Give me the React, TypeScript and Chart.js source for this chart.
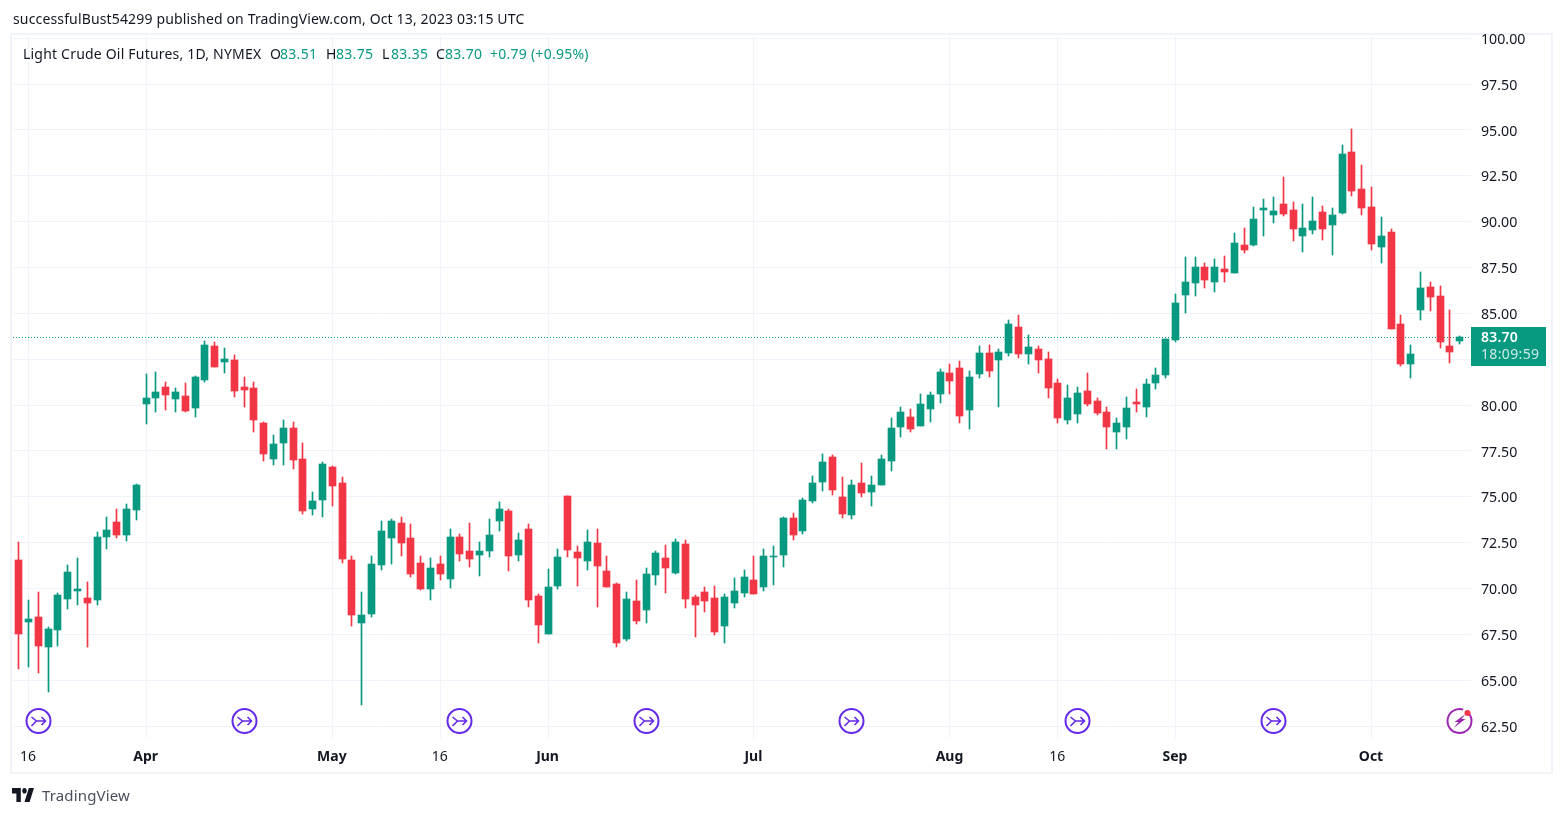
import React, { useEffect, useRef } from "react";
import { Chart, registerables } from "chart.js";

Chart.register(...registerables);

const opens = [
  71.55,68.17,68.45,66.83,67.76,69.45,69.88,69.48,69.39,72.83,
  73.63,72.94,74.30,80.08,80.40,80.99,80.35,80.50,79.86,81.39,
  83.22,82.35,82.46,80.99,80.93,79.02,77.08,77.95,78.75,77.06,
  74.35,74.84,76.62,75.75,71.55,68.12,68.61,71.28,72.77,73.57,
  72.75,71.39,69.97,71.34,70.52,72.81,72.04,71.83,72.04,73.68,
  74.23,71.83,73.24,69.59,67.52,70.14,75.04,71.99,71.50,72.48,
  70.95,70.25,67.25,69.32,68.83,70.74,71.66,70.85,72.43,69.54,
  69.81,69.48,67.96,69.21,69.75,70.46,70.08,71.71,71.83,73.84,
  73.13,74.77,75.81,77.17,74.99,74.01,75.75,75.26,75.64,76.95,
  78.80,79.35,78.86,79.79,80.60,81.75,82.02,79.73,81.70,82.84,
  82.46,82.84,84.26,82.78,83.06,82.51,81.20,79.19,79.51,80.77,
  80.22,79.62,78.53,78.80,80.17,79.90,81.20,81.64,83.55,86.00,
  86.66,87.53,86.71,87.42,87.20,88.73,88.73,90.64,90.36,90.96,
  90.64,89.22,89.55,90.53,89.82,90.47,93.80,91.78,90.80,88.62,
  89.44,84.42,82.24,85.19,86.44,85.95,83.22,83.51,
];
const closes = [
  67.52,68.34,66.88,67.79,69.65,70.90,69.97,69.21,72.81,73.19,
  72.94,74.33,75.64,80.39,80.71,80.57,80.71,79.70,81.53,83.28,
  82.10,82.51,80.79,80.82,79.20,77.35,77.88,78.75,77.02,74.24,
  74.77,76.79,75.60,71.63,68.56,68.56,71.34,73.13,73.68,72.48,
  70.79,69.97,71.12,70.79,72.81,71.88,71.61,72.04,72.92,74.33,
  71.77,72.64,69.37,68.01,70.08,71.72,72.10,71.66,72.54,71.23,
  70.08,67.03,69.43,68.23,70.79,71.93,71.12,72.54,69.43,69.10,
  69.32,67.63,69.54,69.86,70.63,69.70,71.77,71.77,73.84,72.92,
  74.82,75.75,76.90,75.37,74.06,75.64,75.21,75.64,77.06,78.75,
  79.62,78.70,80.06,80.55,81.80,81.31,79.41,81.53,82.84,81.86,
  82.89,84.42,82.78,83.17,82.46,80.93,79.30,80.39,80.66,80.06,
  79.57,78.80,79.02,79.84,80.06,81.15,81.64,83.60,85.57,86.71,
  87.53,86.82,87.53,87.26,88.84,88.46,90.15,90.75,90.58,90.42,
  89.60,89.66,90.04,89.60,90.36,93.69,91.67,90.75,88.78,89.22,
  84.15,82.24,82.79,86.38,85.89,83.44,82.91,83.70,
];
const highs = [
  72.54,69.37,69.81,67.90,69.76,71.28,71.66,70.35,73.08,73.90,
  74.33,74.61,75.70,81.70,81.80,81.26,80.93,81.20,81.59,83.50,
  83.44,83.11,82.73,81.53,81.26,79.08,78.37,79.19,79.08,77.93,
  75.26,76.90,76.68,76.08,71.77,69.81,71.77,73.68,73.79,73.90,
  73.52,71.77,71.66,71.77,73.24,72.97,73.57,72.54,73.79,74.72,
  74.33,73.03,73.52,69.70,71.06,72.15,75.04,72.32,73.19,73.24,
  71.77,70.30,69.81,70.46,71.12,72.04,72.37,72.70,72.64,69.65,
  70.08,70.14,69.70,70.57,71.01,71.77,72.15,72.32,73.90,74.12,
  74.93,76.13,77.33,77.28,76.08,75.92,76.84,76.13,77.28,79.30,
  79.90,79.79,80.60,80.71,81.97,82.24,82.40,81.86,83.22,83.28,
  83.06,84.64,84.91,83.82,83.22,82.90,81.42,81.10,80.99,81.75,
  80.39,79.90,79.30,80.44,80.88,81.42,82.02,83.60,86.06,88.07,
  88.07,87.75,87.97,88.13,89.39,89.66,90.80,91.24,91.35,92.44,
  91.07,90.96,91.35,90.85,90.75,94.18,95.05,93.09,91.89,90.26,
  89.60,84.91,83.28,87.26,86.71,86.50,85.19,83.75,
];
const lows = [
  65.63,65.74,65.41,64.38,66.88,68.90,69.12,66.83,69.12,72.17,
  72.77,72.61,73.75,78.99,79.64,79.75,79.64,79.64,79.37,81.28,
  82.10,81.77,80.46,79.90,78.55,76.97,76.75,76.75,76.53,74.08,
  74.03,73.92,74.52,71.40,67.96,63.65,68.45,71.00,71.34,71.77,
  70.63,69.92,69.37,70.46,70.03,71.50,71.17,70.68,71.72,73.13,
  70.95,71.50,68.99,67.03,67.52,69.97,71.72,70.14,71.00,68.99,
  70.08,66.81,67.14,68.07,68.12,70.19,69.75,70.79,68.94,67.36,
  68.72,67.47,67.03,68.94,69.54,69.70,69.86,70.19,71.17,72.64,
  72.97,74.66,75.31,75.10,73.84,73.79,74.99,74.50,75.64,76.41,
  78.26,78.53,78.86,79.08,80.11,80.60,79.02,78.70,81.48,81.53,
  79.90,82.68,82.57,82.24,81.75,80.39,79.02,78.97,79.02,79.95,
  79.46,77.60,77.60,78.15,79.62,79.35,80.88,81.48,83.44,85.02,
  85.95,86.39,86.17,86.71,87.20,88.30,88.67,89.22,89.93,90.31,
  88.95,88.35,89.33,89.00,88.19,90.42,91.40,90.36,88.46,87.75,
  84.15,82.13,81.48,84.64,85.13,83.11,82.30,83.35,
];

const priceTicks = [62.5,65,67.5,70,72.5,75,77.5,80,82.5,85,87.5,90,92.5,95,97.5,100];
const timeTickIndex = [1, 13, 32, 43, 54, 75, 95, 106, 118, 138];
const timeTickLabels = ["16", "Apr", "May", "16", "Jun", "Jul", "Aug", "16", "Sep", "Oct"];
const eventIndex = [2, 23, 45, 64, 85, 108, 128];
const splitEventIndex = [147];

const lastPrice = 83.7;
const countdown = "18:09:59";
const headerLine = "successfulBust54299 published on TradingView.com, Oct 13, 2023 03:15 UTC";
const symbolLine = "Light Crude Oil Futures, 1D, NYMEX";
const ohlcLetters = ["O", "H", "L", "C"];
const ohlcValues = ["83.51", "83.75", "83.35", "83.70"];
const changeText = "+0.79 (+0.95%)";

const UP = "#089981";
const DOWN = "#f23645";
const GRID = "#f0f3fa";
const TEXT = "#131722";
const FONT = '"Noto Sans", sans-serif';

const colors = opens.map((o, i) => (closes[i] >= o ? UP : DOWN));

const pixelSnap = {
  id: "pixelSnap",
  beforeDatasetsDraw(chart: any) {
    chart.data.datasets.forEach((_: any, d: number) => {
      chart.getDatasetMeta(d).data.forEach((el: any) => {
        el.x = Math.floor(el.x) + 0.5;
        const a = Math.round(el.y);
        let b = Math.round(el.base);
        if (a === b) b = a + 1;
        el.y = a;
        el.base = b;
      });
    });
  },
};

const decorations = {
  id: "decorations",
  beforeDraw(chart: any) {
    const { ctx } = chart;
    ctx.save();
    ctx.fillStyle = "#ffffff";
    ctx.fillRect(0, 0, chart.width, chart.height);
    ctx.strokeStyle = GRID;
    ctx.lineWidth = 2;
    ctx.strokeRect(11, 34, 1541, 739);
    ctx.restore();
  },
  beforeDatasetsDraw(chart: any) {
    const { ctx, chartArea, scales } = chart;
    const y = Math.round(scales.y.getPixelForValue(lastPrice)) + 0.5;
    ctx.save();
    ctx.strokeStyle = UP;
    ctx.lineWidth = 1;
    ctx.setLineDash([1, 2]);
    ctx.beginPath();
    ctx.moveTo(chartArea.left, y);
    ctx.lineTo(chartArea.right, y);
    ctx.stroke();
    ctx.restore();
  },
  afterDraw(chart: any) {
    const { ctx, scales } = chart;
    const y = Math.round(scales.y.getPixelForValue(lastPrice));
    ctx.save();
    ctx.fillStyle = UP;
    ctx.fillRect(1471, y - 10, 75, 39);
    ctx.textAlign = "left";
    ctx.textBaseline = "middle";
    ctx.letterSpacing = "0.2px";
    ctx.font = `600 14px ${FONT}`;
    ctx.fillStyle = "#ffffff";
    ctx.fillText(lastPrice.toFixed(2), 1481, y + 1);
    ctx.letterSpacing = "0.35px";
    ctx.font = `14px ${FONT}`;
    ctx.fillStyle = "rgba(255,255,255,0.8)";
    ctx.fillText(countdown, 1481, y + 18);
    ctx.letterSpacing = "0px";

    const cy = 721;
    eventIndex.forEach((i) => {
      const cx = Math.floor(scales.x.getPixelForValue(i)) + 0.5;
      ctx.strokeStyle = "#6429ea";
      ctx.lineWidth = 2;
      ctx.beginPath();
      ctx.arc(cx, cy, 12, 0, Math.PI * 2);
      ctx.fillStyle = "#ffffff";
      ctx.fill();
      ctx.stroke();
      ctx.lineWidth = 1.6;
      ctx.beginPath();
      ctx.moveTo(cx - 7, cy - 4);
      ctx.lineTo(cx - 2, cy);
      ctx.lineTo(cx + 7, cy);
      ctx.moveTo(cx + 3, cy - 4);
      ctx.lineTo(cx + 7, cy);
      ctx.lineTo(cx + 3, cy + 4);
      ctx.moveTo(cx - 2, cy);
      ctx.lineTo(cx - 7, cy + 5);
      ctx.stroke();
    });
    splitEventIndex.forEach((i) => {
      const cx = Math.floor(scales.x.getPixelForValue(i)) + 0.5;
      ctx.strokeStyle = "#9c27b0";
      ctx.fillStyle = "#ffffff";
      ctx.lineWidth = 2;
      ctx.beginPath();
      ctx.arc(cx, cy, 12, 0, Math.PI * 2);
      ctx.fill();
      ctx.beginPath();
      ctx.arc(cx, cy, 12, -Math.PI * 0.2, Math.PI * 1.6);
      ctx.stroke();
      ctx.fillStyle = "#9c27b0";
      ctx.beginPath();
      ctx.moveTo(cx + 6, cy - 7);
      ctx.lineTo(cx - 5, cy + 1);
      ctx.lineTo(cx - 1, cy + 1);
      ctx.lineTo(cx - 6, cy + 7);
      ctx.lineTo(cx + 6, cy - 2);
      ctx.lineTo(cx + 2, cy - 2);
      ctx.closePath();
      ctx.fill();
      ctx.fillStyle = DOWN;
      ctx.beginPath();
      ctx.arc(cx + 8, cy - 8, 3, 0, Math.PI * 2);
      ctx.fill();
    });
    ctx.restore();
  },
};

const abs = (left: number, top: number, color: string, spacing: number): React.CSSProperties => ({
  position: "absolute",
  left,
  top,
  color,
  fontFamily: FONT,
  fontSize: 14,
  lineHeight: "20px",
  whiteSpace: "nowrap",
  letterSpacing: spacing,
});

const ohlcLetterX = [270, 326, 382, 436];
const ohlcValueX = [280, 336, 391, 445];

export default function App() {
  const ref = useRef<HTMLCanvasElement>(null);
  useEffect(() => {
    const indices = opens.map((_, i) => i);
    const chart = new Chart(ref.current as HTMLCanvasElement, {
      type: "bar",
      data: {
        datasets: [
          {
            label: "High-Low",
            data: indices.map((i) => ({ x: i, y: [lows[i], highs[i]] })) as any,
            backgroundColor: colors,
            barThickness: 1,
            grouped: false,
            order: 2,
          },
          {
            label: "Open-Close",
            data: indices.map((i) => ({ x: i, y: [opens[i], closes[i]] })) as any,
            backgroundColor: colors,
            barThickness: 7,
            grouped: false,
            order: 1,
          },
        ],
      },
      options: {
        responsive: false,
        animation: false,
        layout: { padding: { left: 13, right: 13, top: 36, bottom: 44 } },
        plugins: { legend: { display: false }, tooltip: { enabled: false } },
        scales: {
          x: {
            type: "linear",
            min: -0.58,
            max: 148.15,
            offset: false,
            border: { display: false },
            grid: { offset: false, color: GRID, drawTicks: false, lineWidth: 1 },
            afterBuildTicks: (s: any) => {
              s.ticks = timeTickIndex.map((value) => ({ value }));
            },
            afterFit: (s: any) => {
              s.height = 35;
            },
            ticks: {
              autoSkip: false,
              maxRotation: 0,
              padding: 11,
              labelOffset: -0.5,
              color: TEXT,
              callback: (_v: any, i: number) => timeTickLabels[i],
              font: (c: any) => ({
                family: FONT,
                size: 14,
                weight: timeTickLabels[c.index] === "16" ? "normal" : "bold",
              }),
            },
          },
          y: {
            type: "linear",
            position: "right",
            min: 61.85,
            max: 100.125,
            border: { display: false },
            grid: { color: GRID, drawTicks: false, lineWidth: 1 },
            afterBuildTicks: (s: any) => {
              s.ticks = priceTicks.map((value) => ({ value }));
            },
            afterFit: (s: any) => {
              s.width = 80;
            },
            ticks: {
              padding: 10,
              labelOffset: 1.5,
              color: TEXT,
              callback: (v: any) => Number(v).toFixed(2),
              font: { family: FONT, size: 14.2 },
            },
          },
        },
      },
      plugins: [decorations, pixelSnap],
    } as any);
    return () => chart.destroy();
  }, []);

  return (
    <div style={{ position: "absolute", left: 0, top: 0, width: 1564, height: 817, overflow: "hidden", background: "#fff" }}>
      <canvas ref={ref} width={1564} height={817} style={{ display: "block" }} />
      <div style={abs(13, 9, TEXT, 0.15)}>{headerLine}</div>
      <div style={abs(23, 44, TEXT, 0.2)}>{symbolLine}</div>
      {ohlcLetters.map((l, i) => (
        <React.Fragment key={l}>
          <div style={abs(ohlcLetterX[i], 44, TEXT, 0)}>{l}</div>
          <div style={abs(ohlcValueX[i], 44, UP, 0.3)}>{ohlcValues[i]}</div>
        </React.Fragment>
      ))}
      <div style={abs(490, 44, UP, 0.25)}>{changeText}</div>
      <svg style={{ position: "absolute", left: 12, top: 788 }} width={22} height={14} viewBox="2 6 30 15" preserveAspectRatio="none">
        <path fill="#131722" d="M14 6H2v6h6v9h6V6zm12 15h-7l6-15h7l-6 15zm-7-9a3 3 0 100-6 3 3 0 000 6z" />
      </svg>
      <div style={{ ...abs(42, 785, "#4a4f5c", 0.15), fontSize: 15 }}>TradingView</div>
    </div>
  );
}
